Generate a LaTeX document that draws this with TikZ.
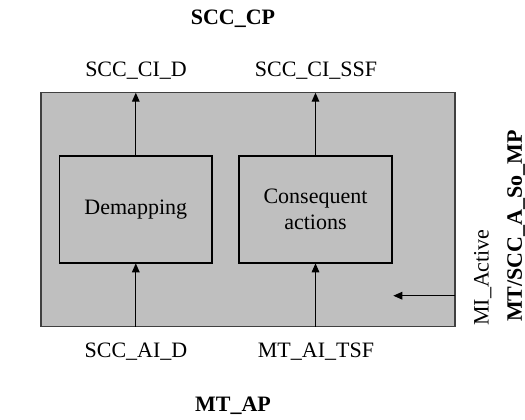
\documentclass[tikz,border=0pt]{standalone}
\usepackage{fontspec}
\setmainfont{Liberation Serif}
\usetikzlibrary{positioning,arrows.meta}

\begin{document}
\begin{tikzpicture}[
		x=0.5pt, y=-0.5pt,
		every node/.style = {
			font=\fontsize{11}{13}\selectfont,
			outer sep=0cm, inner sep=0cm
		},
		block/.style = {
			draw, rectangle, line width=0.9pt,
			minimum width=76.4pt,
			minimum height=53.8pt,
			align=center
		},
		sig/.style = {-{Triangle[length=4.5pt,width=3.8pt]}, line width=0.6pt}
		]
		\useasboundingbox (0,0) rectangle (525,419);
		\node [draw=black!75, fill=black!25, line width=0.6pt, minimum width=207pt, minimum height=117pt] (fn) at (248,209.7) {};
		\node [block] (demap) at (135.8,209.5) {Demapping};
		\node [block] (conseq) at (315.5,209.5) {Consequent\\actions};
		% coordinates on the outer border
		\coordinate (dtop) at (demap.north |- fn.north);
		\coordinate (dbot) at (demap.south |- fn.south);
		\coordinate (ctop) at (conseq.north |- fn.north);
		\coordinate (cbot) at (conseq.south |- fn.south);
		\coordinate (mi) at (fn.east |- 0,295.7);
		\coordinate (miend) at (393.3,295.7);
		\draw[sig] (demap.north) -- (dtop);
		\draw[sig] (conseq.north) -- (ctop);
		\draw[sig] (dbot) -- (demap.south);
		\draw[sig] (cbot) -- (conseq.south);
		\draw[sig] (mi) -- (miend);
		% labels
		\node (cid) at (136,71) {SCC\_CI\_D};
		\node (cissf) at (316,71) {SCC\_CI\_SSF};
		\node (aid) at (136,351.7) {SCC\_AI\_D};
		\node (aitsf) at (316,351.7) {MT\_AI\_TSF};
		\node [font=\fontsize{11}{13}\selectfont\bfseries] (cp) at (233,19) {SCC\_CP};
		\node [font=\fontsize{11}{13}\selectfont\bfseries] (ap) at (233,405.7) {MT\_AP};
		\node [rotate=90] (miact) at (482.7,277.5) {MI\_Active};
		\node [rotate=90, font=\fontsize{11}{13}\selectfont\bfseries] (mp) at (516,226) {MT/SCC\_A\_So\_MP};
	\end{tikzpicture}
\end{document}
